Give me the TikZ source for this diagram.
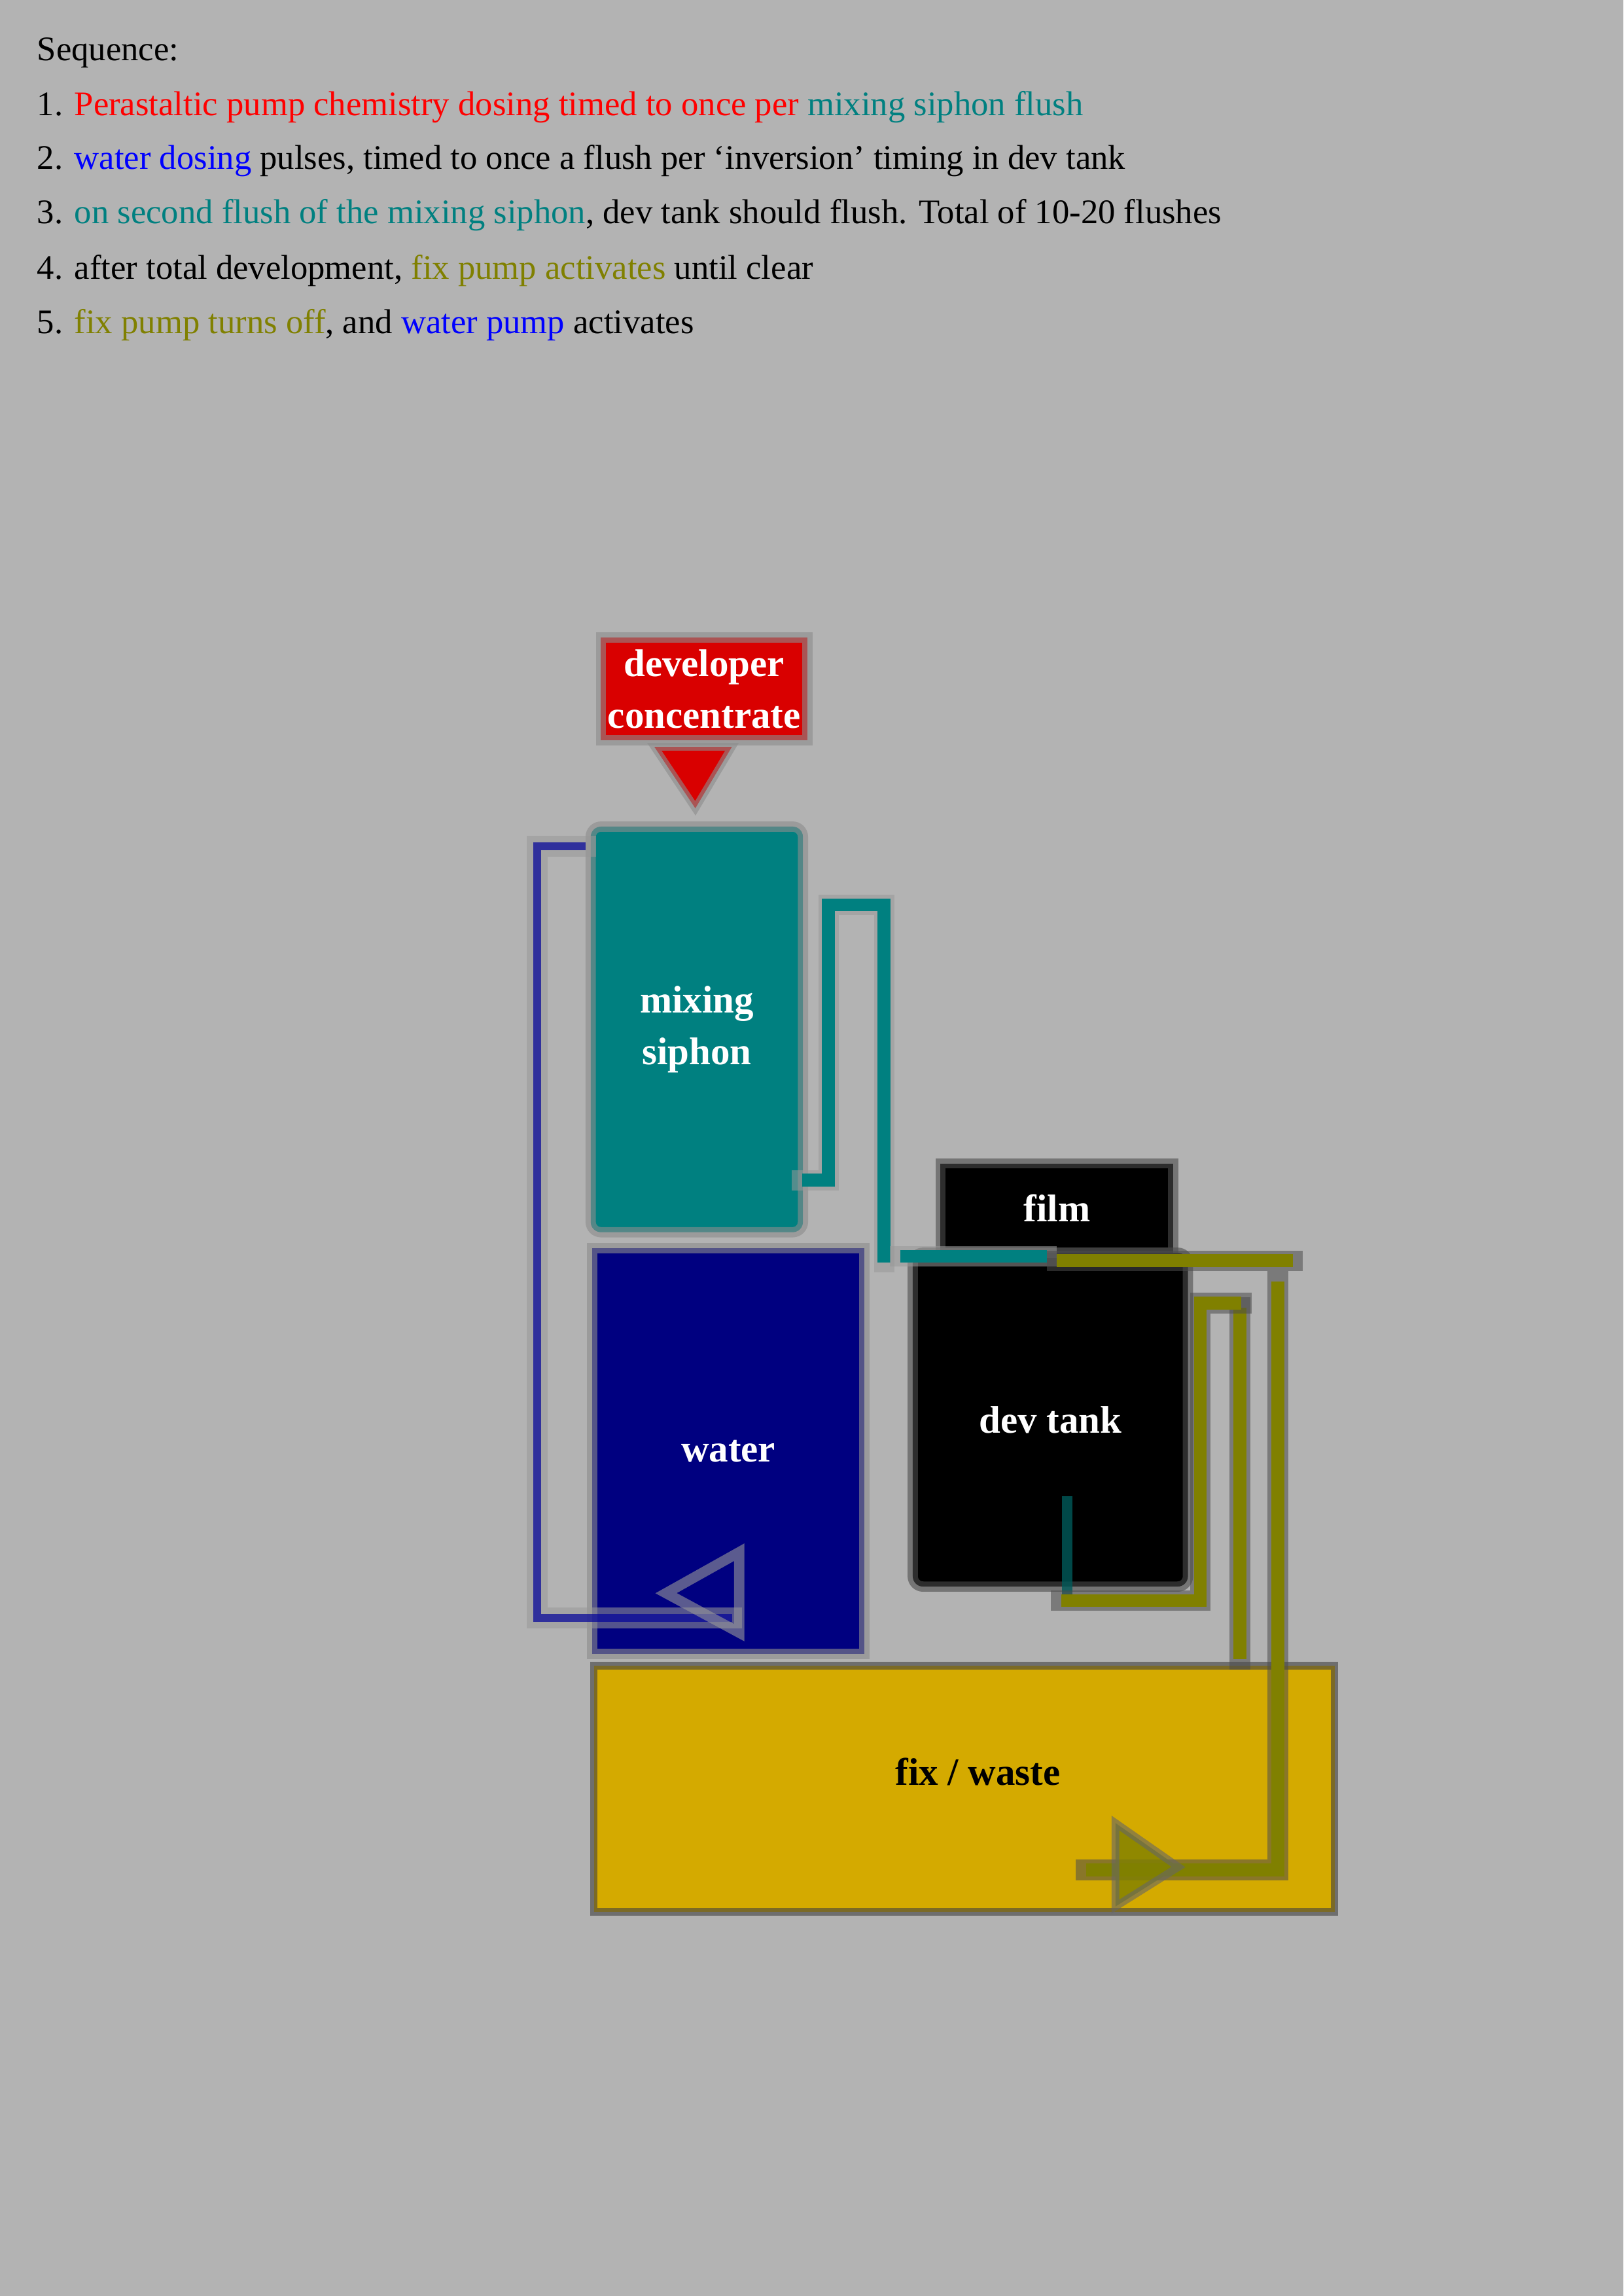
\documentclass[tikz,border=0pt]{standalone}
\usepackage{fontspec}
\setmainfont{Liberation Serif}
\begin{document}
\begin{tikzpicture}[x=0.02cm,y=-0.02cm,
 box/.style={draw=black!45,draw opacity=0.6,line width=4pt,inner sep=0,anchor=north west,font=\bfseries\fontsize{15}{20}\selectfont,align=center},
 pipeout/.style={line width=8pt,draw=black!40,draw opacity=0.55,line cap=rect},
 txt/.style={anchor=west,font=\fontsize{13.4}{16}\selectfont,inner sep=0}]
\definecolor{bg}{HTML}{B3B3B3}
\definecolor{teal2}{HTML}{008080}
\definecolor{navy2}{HTML}{000080}
\definecolor{gold2}{HTML}{D4AA00}
\definecolor{olive2}{HTML}{808000}
\fill[bg] (0,0) rectangle (1109,1568);
\useasboundingbox (0,0) rectangle (1109,1568);
% text
\node[txt] (t0) at (25,36) {Sequence:};
\node[txt] (t1) at (25,73) {1. \textcolor{red}{Perastaltic pump chemistry dosing timed to once per} \textcolor{teal2}{mixing siphon flush}};
\node[txt] (t2) at (25,110) {2. \textcolor{blue}{water dosing} pulses, timed to once a flush per `inversion' timing in dev tank};
\node[txt] (t3) at (25,147) {3. \textcolor{teal2}{on second flush of the mixing siphon}, dev tank should flush. Total of 10-20 flushes};
\node[txt] (t4) at (25,185) {4. after total development, \textcolor{olive2}{fix pump activates} until clear};
\node[txt] (t5) at (25,222) {5. \textcolor{olive2}{fix pump turns off}, and \textcolor{blue}{water pump} activates};
% boxes
\node[box,fill=red!85!black,text=white,minimum width=141*0.02cm,minimum height=70*0.02cm] (dev) at (407,432) {developer\\concentrate};
\draw[fill=red!85!black,draw=black!45,draw opacity=0.6,line width=3pt] (447,510) -- (500,510) -- (475,552) -- cycle;
\node[box,rounded corners=4pt,fill=teal2,text=white,minimum width=145*0.02cm,minimum height=277*0.02cm] (mix) at (400,561) {mixing\\siphon};
\node[box,fill=navy2,text=white,minimum width=186*0.02cm,minimum height=277*0.02cm] (water) at (401,849) {water};
\node[box,fill=black,text=white,minimum width=159*0.02cm,minimum height=61*0.02cm,draw=black!70] (film) at (639,791) {film};
\node[box,rounded corners=4pt,fill=black,text=white,minimum width=188*0.02cm,minimum height=228*0.02cm,draw=black!70] (tank) at (620,852) {dev tank};
\node[box,fill=gold2,minimum width=506*0.02cm,minimum height=168*0.02cm,draw=black!75,line width=3pt] (fix) at (403,1135) {};
\node[font=\bfseries\fontsize{15}{20}\selectfont] (fixl) at (668,1210) {fix / waste};
% blue pipe
\draw[pipeout] (400,578) -- (367,578) -- (367,1105) -- (500,1105);
\draw[navy2!80!blue,line width=3pt,opacity=0.7] (400,578) -- (367,578) -- (367,1105) -- (500,1105);
\draw[draw=black!40,opacity=0.6,line width=4pt] (455,1088) -- (505,1060) -- (505,1115) -- cycle;
% teal pipes
\foreach \p in {{(548,806) -- (566,806) -- (566,618) -- (604,618) -- (604,862)},{(615,858) -- (715,858)}}{
 \draw[pipeout] \p; \draw[teal2,line width=5pt] \p;}
\draw[teal2!70!black,line width=4pt,opacity=0.8] (729,1022) -- (729,1095);
% olive pipes
\draw[pipeout,draw=black!70] (722,861) -- (883,861);
\draw[olive2,line width=5pt] (722,861) -- (883,861);
\draw[pipeout,draw=black!70] (873,875) -- (873,1277) -- (742,1277);
\draw[olive2,line width=5pt] (873,875) -- (873,1277) -- (742,1277);
\draw[pipeout,draw=black!70] (847,893) -- (847,1133);
\draw[olive2,line width=5pt] (847,893) -- (847,1133);
\draw[pipeout,draw=black!70] (848,890) -- (820,890) -- (820,1093) -- (725,1093);
\draw[olive2,line width=5pt] (848,890) -- (820,890) -- (820,1093) -- (725,1093);
\draw[fill=olive2,fill opacity=0.8,draw=black!60,draw opacity=0.6,line width=3pt] (762,1245) -- (805,1275) -- (762,1302) -- cycle;
\end{tikzpicture}
\end{document}
